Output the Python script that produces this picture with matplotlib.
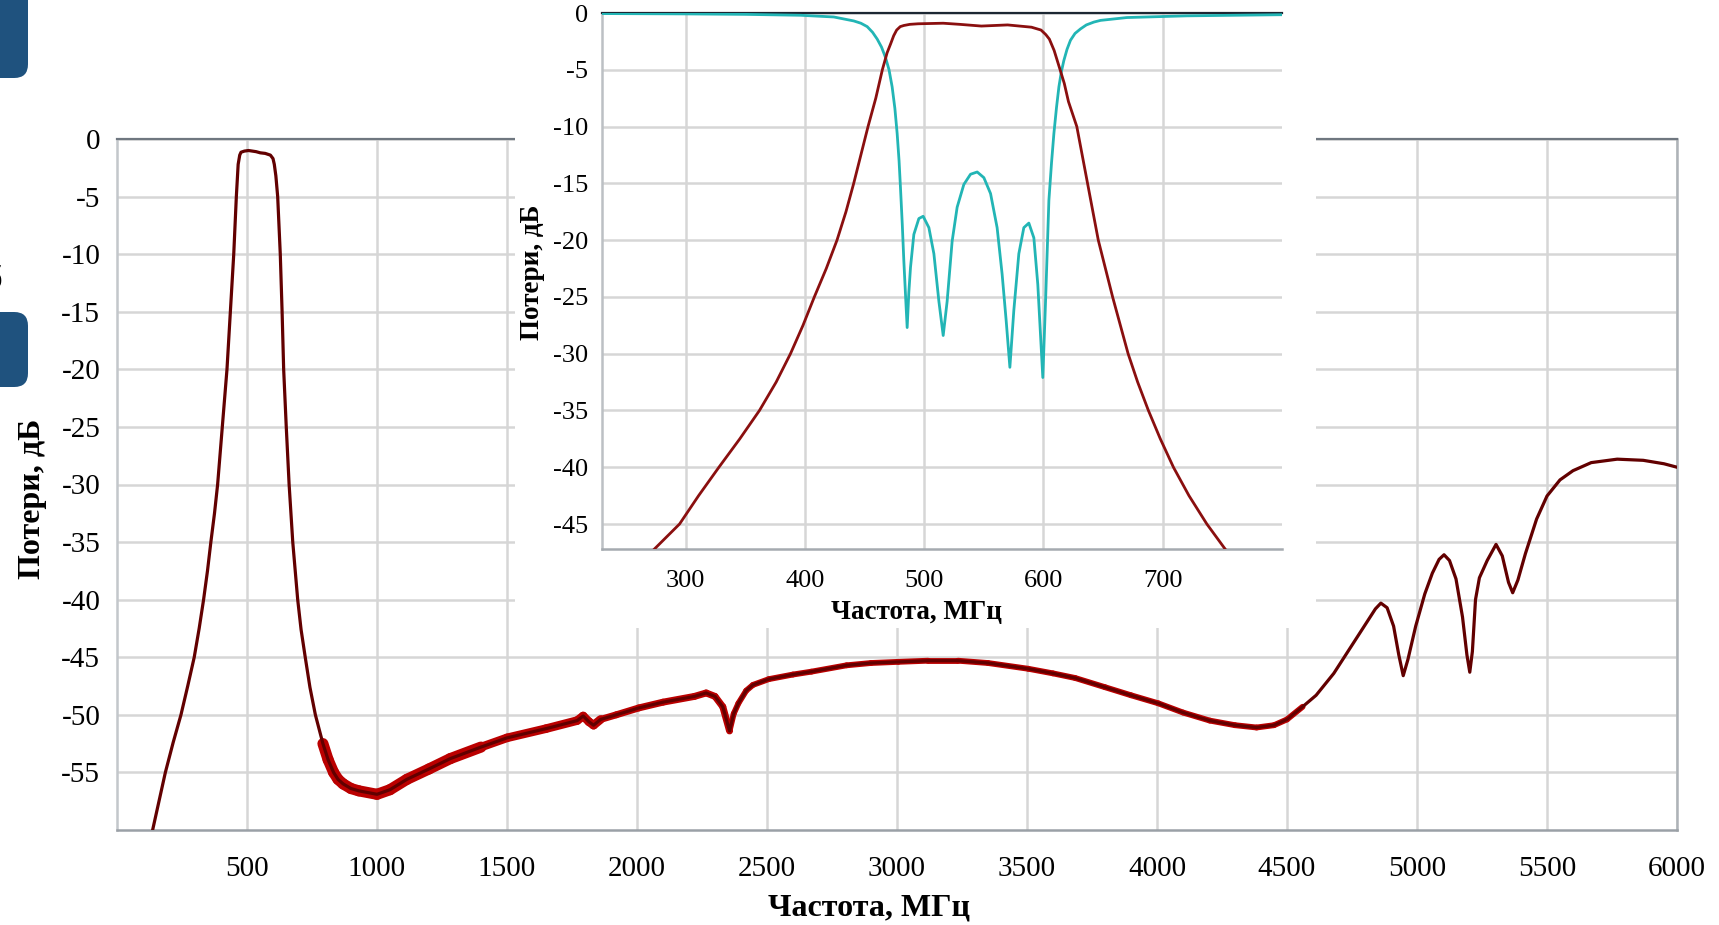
import numpy as np
import matplotlib
matplotlib.use("Agg")
import matplotlib.pyplot as plt
from matplotlib.patches import Rectangle, FancyBboxPatch
from matplotlib.collections import LineCollection

plt.rcParams['font.family'] = ['Liberation Serif', 'DejaVu Serif']
plt.rcParams['axes.unicode_minus'] = False

# ---------------- data: main measured response ----------------
freq_main = [138, 186, 216, 246, 272, 297, 316, 333, 348, 361, 375, 387, 405, 423, 436, 449, 459, 466,
             472, 477, 490, 506, 520, 535, 551, 570, 590, 600, 605, 611, 618, 628, 635, 641, 651,
             662, 676, 695, 708, 724, 742, 763, 792, 812, 833, 850, 870, 900, 930, 1000, 1050, 1115,
             1200, 1282, 1400, 1500, 1650, 1770, 1793, 1815, 1833, 1860, 1920, 2007, 2100, 2221,
             2266, 2300, 2330, 2356, 2372, 2390, 2420, 2446, 2507, 2600, 2671, 2806, 2900, 3005,
             3120, 3234, 3350, 3505, 3600, 3685, 3800, 3900, 4005, 4100, 4203, 4300, 4383, 4450,
             4500, 4560, 4612, 4680, 4740, 4800, 4840, 4861, 4885, 4910, 4930, 4947, 4965, 4995,
             5030, 5059, 5085, 5104, 5125, 5150, 5175, 5192, 5203, 5213, 5225, 5240, 5270, 5304,
             5328, 5352, 5368, 5388, 5417, 5460, 5500, 5550, 5600, 5670, 5770, 5870, 5950, 6000]
loss_main = [-59.9, -55.0, -52.4, -50.0, -47.5, -45.0, -42.5, -40.0, -37.5, -35.0, -32.5, -30.0,
             -25.0, -20.0, -15.0, -10.0, -5.0, -2.2, -1.4, -1.15, -1.05, -1.0, -1.05, -1.1, -1.2,
             -1.25, -1.4, -1.7, -2.2, -3.2, -5.0, -10.0, -15.0, -20.0, -25.0, -30.0, -35.0, -40.0,
             -42.6, -45.0, -47.6, -50.0, -52.5, -53.9, -55.0, -55.6, -56.0, -56.4, -56.6, -56.9,
             -56.5, -55.6, -54.7, -53.8, -52.8, -52.0, -51.2, -50.5, -50.1, -50.6, -50.9, -50.4,
             -50.0, -49.4, -48.9, -48.4, -48.1, -48.4, -49.3, -51.4, -49.9, -49.0, -47.9, -47.4,
             -46.9, -46.5, -46.25, -45.7, -45.5, -45.4, -45.3, -45.3, -45.5, -46.0, -46.4, -46.8,
             -47.6, -48.3, -49.0, -49.8, -50.5, -50.9, -51.1, -50.9, -50.4, -49.3, -48.3, -46.4,
             -44.3, -42.2, -40.8, -40.3, -40.7, -42.3, -44.8, -46.6, -45.2, -42.3, -39.5, -37.7,
             -36.5, -36.1, -36.6, -38.2, -41.5, -44.8, -46.3, -44.5, -40.0, -38.1, -36.6, -35.2,
             -36.2, -38.5, -39.4, -38.3, -36.0, -33.0, -31.0, -29.6, -28.8, -28.1, -27.8, -27.9,
             -28.2, -28.5]

# ---------------- data: inset (simulated S21 / S11) ----------------
ins_f21 = [273, 295, 311, 328, 345.5, 362, 376, 388, 398.5, 408, 418, 427, 434.5, 441, 447, 453,
           459.5, 465, 469, 472, 474.5, 477, 480, 483, 488, 495, 516, 530, 548, 570, 590, 598,
           602, 605, 609, 614, 617.5, 621, 628, 632.5, 637, 641.5, 646, 652, 658, 664.5, 671,
           679, 688, 698, 709, 722, 737, 753]
ins_s21 = [-47.3, -45.0, -42.5, -40.0, -37.5, -35.0, -32.5, -30.0, -27.5, -25.0, -22.5, -20.0,
           -17.5, -15.0, -12.5, -10.0, -7.5, -5.0, -3.5, -2.7, -2.0, -1.5, -1.2, -1.1, -1.0,
           -0.95, -0.9, -1.0, -1.15, -1.05, -1.25, -1.5, -1.9, -2.3, -3.3, -5.0, -6.2, -7.8,
           -10.0, -12.5, -15.0, -17.5, -20.0, -22.5, -25.0, -27.5, -30.0, -32.5, -35.0, -37.5,
           -40.0, -42.5, -45.0, -47.3]

ins_f11 = [230, 300, 350, 396.4, 424.3, 441.1, 447.0, 452.3, 456.8, 460.7, 464.3, 467.6, 470.6,
           473.2, 475.5, 477.4, 479.0, 480.2, 481.7, 483.0, 484.5, 485.8, 487.2, 488.6, 491.4,
           495.6, 499.2, 504.0, 508.2, 512.4, 516.0, 519.3, 523.5, 527.7, 533.3, 538.9, 544.5,
           550.1, 555.7, 561.2, 565.4, 568.8, 571.9, 575.2, 579.4, 583.6, 587.8, 592.0, 595.3,
           599.5, 601.8, 604.6, 606.8, 608.8, 611.0, 613.0, 615.0, 617.1, 619.8, 622.7, 626.5,
           631.1, 636.0, 642.3, 647.9, 670, 720, 800]
ins_s11 = [-0.05, -0.08, -0.12, -0.2, -0.35, -0.7, -0.9, -1.2, -1.7, -2.3, -3.0, -3.9, -5.0,
           -6.5, -8.4, -10.6, -13.0, -15.4, -18.6, -21.8, -25.0, -27.7, -24.6, -22.4, -19.5,
           -18.1, -17.9, -18.9, -21.2, -25.4, -28.4, -25.4, -20.1, -17.1, -15.1, -14.2, -14.0,
           -14.5, -15.9, -18.9, -23.0, -27.1, -31.2, -26.2, -21.2, -18.9, -18.5, -19.8, -23.9,
           -32.1, -25.4, -16.5, -13.2, -10.6, -8.3, -6.5, -5.2, -4.2, -3.2, -2.4, -1.8, -1.4,
           -1.05, -0.8, -0.65, -0.4, -0.25, -0.15]

main_xticks = [500, 1000, 1500, 2000, 2500, 3000, 3500, 4000, 4500, 5000, 5500, 6000]
main_yticks = [0, -5, -10, -15, -20, -25, -30, -35, -40, -45, -50, -55]
ins_xticks = [300, 400, 500, 600, 700]
ins_yticks = [0, -5, -10, -15, -20, -25, -30, -35, -40, -45]

xlabel = "Частота, МГц"
ylabel = "Потери, дБ"

# ---------------- figure ----------------
W, H = 1719, 925
fig = plt.figure(figsize=(W / 100, H / 100), dpi=100)
fig.patch.set_facecolor('white')

def fx(px):
    return px / W

def fy(py):
    return 1 - py / H

grid_c = '#d6d6d6'

# main axes
ax = fig.add_axes([fx(117), fy(830), fx(1677) - fx(117), fy(139) - fy(830)], zorder=1)
ax.set_xlim(0, 6000)
ax.set_ylim(-60, 0)
ax.set_xticks(main_xticks)
ax.set_yticks(main_yticks)
ax.set_xticklabels([str(v) for v in main_xticks])
ax.set_yticklabels([str(v) for v in main_yticks])
ax.tick_params(length=0, labelsize=21, colors='black')
ax.tick_params(axis='y', pad=12)
ax.tick_params(axis='x', pad=19)
ax.grid(True, color=grid_c, lw=1.8)
ax.set_axisbelow(True)
ax.spines['top'].set_color('#6f7780')
ax.spines['top'].set_linewidth(1.6)
ax.spines['left'].set_color('#c3c7cb')
ax.spines['left'].set_linewidth(1.8)
ax.spines['bottom'].set_color('#9aa0a6')
ax.spines['bottom'].set_linewidth(1.8)
ax.spines['right'].set_color('#aeb3b8')
ax.spines['right'].set_linewidth(1.8)

fm = np.array(freq_main, dtype=float)
lm = np.array(loss_main, dtype=float)
# noise-band emulation: a wider, brighter trace where the measurement is noisy
pts = np.column_stack([fm, lm])
segs = np.stack([pts[:-1], pts[1:]], axis=1)
mid = 0.5 * (fm[:-1] + fm[1:])
widths = np.where(mid < 800, 0.0,
         np.where(mid < 1350, 8.0,
         np.where(mid < 1850, 6.2,
         np.where(mid < 2350, 5.0,
         np.where(mid < 4560, 4.2, 0.0)))))
keep = widths > 0
lc = LineCollection(segs[keep], linewidths=widths[keep], colors='#bb0000',
                    capstyle='round', joinstyle='round', zorder=2)
ax.add_collection(lc)
ax.plot(fm, lm, color='#620000', lw=2.3, zorder=3)

ax.set_xlabel(xlabel, fontsize=23, fontweight='bold')
ax.set_ylabel(ylabel, fontsize=23, fontweight='bold')
ax.xaxis.set_label_coords((869 - 117) / 1560, (830 - 908) / 691)
ax.yaxis.set_label_coords((33 - 117) / 1560, (830 - 499) / 691)
ax.xaxis.label.set_va('center')
ax.yaxis.label.set_va('center')

# white background behind inset
fig.patches.append(Rectangle((fx(515), fy(628)), fx(1316) - fx(515), 1 - fy(628) + 0.01,
                             transform=fig.transFigure, facecolor='white',
                             edgecolor='none', zorder=2))

# inset axes
ai = fig.add_axes([fx(602), fy(549), fx(1282) - fx(602), fy(13) - fy(549)], zorder=3)
ai.set_facecolor('white')
ai.set_xlim(230, 800)
ai.set_ylim(-47.2, 0)
ai.set_xticks(ins_xticks)
ai.set_yticks(ins_yticks)
ai.set_xticklabels([str(v) for v in ins_xticks])
ai.set_yticklabels([str(v) for v in ins_yticks])
ai.tick_params(length=0, labelsize=19, colors='black')
ai.tick_params(axis='y', pad=10)
ai.tick_params(axis='x', pad=15)
ai.grid(True, color=grid_c, lw=1.8)
ai.set_axisbelow(True)
ai.spines['top'].set_color('#1c2733')
ai.spines['top'].set_linewidth(1.6)
ai.spines['left'].set_color('#bcc0c4')
ai.spines['left'].set_linewidth(1.8)
ai.spines['bottom'].set_color('#a5aab0')
ai.spines['bottom'].set_linewidth(1.8)
ai.spines['right'].set_visible(False)

ai.plot(ins_f11, ins_s11, color='#22b5b5', lw=2.0, zorder=3)
ai.plot(ins_f21, ins_s21, color='#8a0f0f', lw=2.0, zorder=4)

ai.set_xlabel(xlabel, fontsize=19.5, fontweight='bold')
ai.set_ylabel(ylabel, fontsize=19.5, fontweight='bold')
ai.xaxis.set_label_coords((916 - 602) / 680, (549 - 612) / 536)
ai.yaxis.set_label_coords((532 - 602) / 680, (549 - 272) / 536)
ai.xaxis.label.set_va('center')
ai.yaxis.label.set_va('center')

# decorative slide elements at left edge
for y0, y1 in [(-30, 78), (312, 387)]:
    fig.patches.append(FancyBboxPatch((fx(-30), fy(y1)), fx(58), fy(y0) - fy(y1),
                                      boxstyle="round,pad=0,rounding_size=0.008",
                                      transform=fig.transFigure, facecolor='#1f527e',
                                      edgecolor='none', zorder=5, mutation_aspect=W / H))
fig.text(fx(-6), fy(281), "б", fontsize=22, ha='center', va='center', color='black')

fig.savefig("out.png", dpi=100, facecolor='white')
